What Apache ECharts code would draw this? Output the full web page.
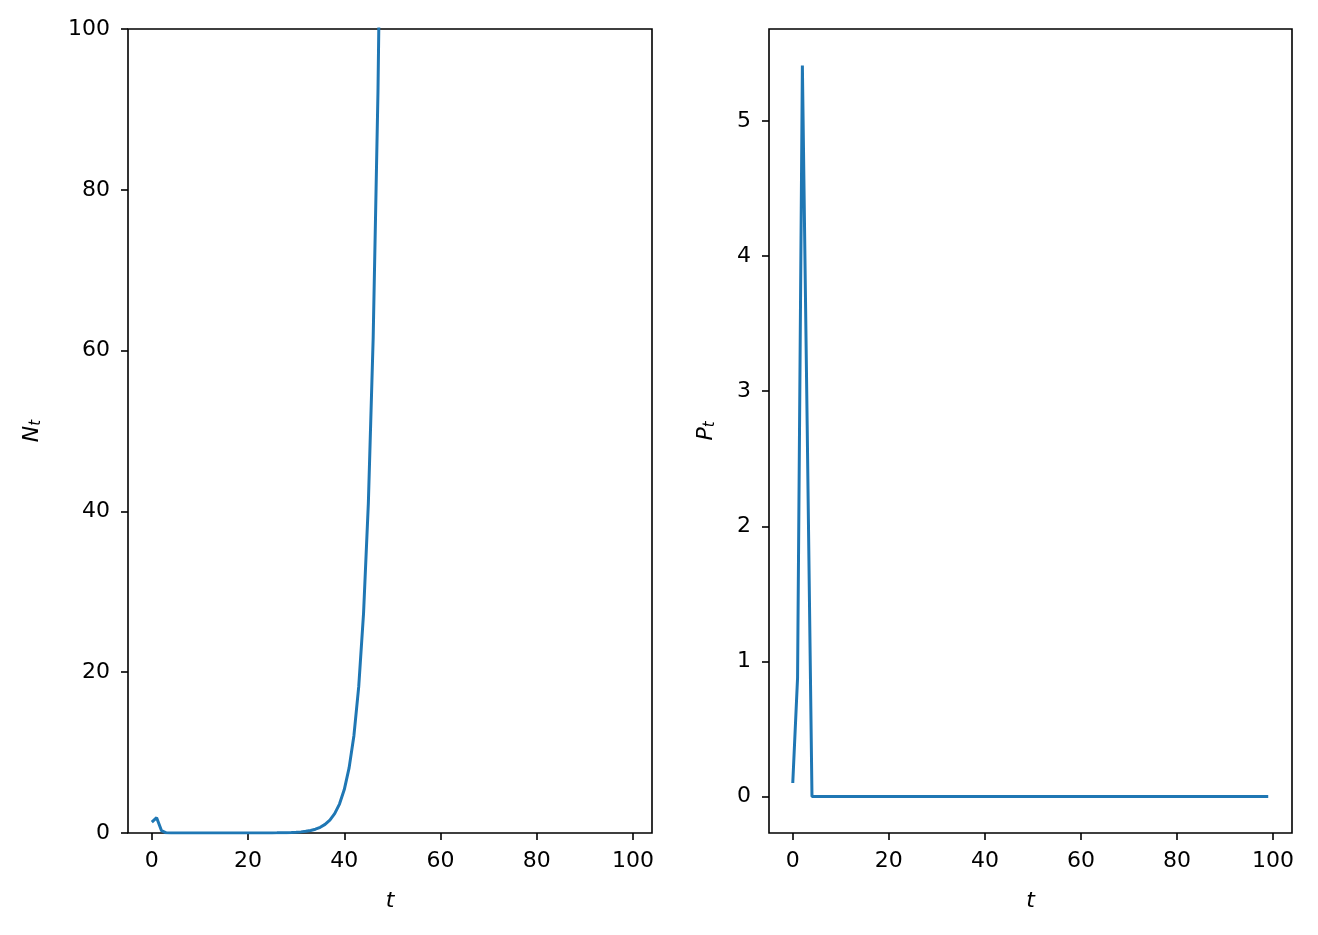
<!DOCTYPE html>
<html>
<head>
<meta charset="utf-8">
<script src="https://cdn.jsdelivr.net/npm/echarts@6/dist/echarts.min.js"></script>
<style>
  html, body { margin: 0; padding: 0; background: #fff; }
  #chart { width: 1318px; height: 935px; }
</style>
</head>
<body>
<div id="chart"></div>
<script>
// population N_t, t = 0..48 (line leaves the top of the plot after t = 47)
const nValues = [
  1.35, 1.9, 0.3, 0.02, 0.01, 0.001, 0.001, 0.001, 0.001, 0.001,
  0.001, 0.001, 0.001, 0.001, 0.001, 0.001, 0.001, 0.001, 0.001, 0.001,
  0.002, 0.003, 0.004, 0.006, 0.009, 0.013, 0.02, 0.03, 0.04, 0.06,
  0.09, 0.14, 0.21, 0.32, 0.47, 0.71, 1.07, 1.6, 2.4, 3.6,
  5.4, 8.1, 12.1, 18.2, 27.3, 41, 61.5, 92.2, 138
];
// P_t, t = 0..99
const pValues = [
  0.1, 0.88, 5.41, 2.75, 0, 0, 0, 0, 0, 0,
  0, 0, 0, 0, 0, 0, 0, 0, 0, 0,
  0, 0, 0, 0, 0, 0, 0, 0, 0, 0,
  0, 0, 0, 0, 0, 0, 0, 0, 0, 0,
  0, 0, 0, 0, 0, 0, 0, 0, 0, 0,
  0, 0, 0, 0, 0, 0, 0, 0, 0, 0,
  0, 0, 0, 0, 0, 0, 0, 0, 0, 0,
  0, 0, 0, 0, 0, 0, 0, 0, 0, 0,
  0, 0, 0, 0, 0, 0, 0, 0, 0, 0,
  0, 0, 0, 0, 0, 0, 0, 0, 0, 0
];
const xTicks = [0, 20, 40, 60, 80, 100];
const nTicks = [0, 20, 40, 60, 80, 100];
const pTicks = [0, 1, 2, 3, 4, 5];

const toPairs = (arr) => arr.map((v, i) => [i, v]);

const font = "DejaVu Sans";
const labelStyle = { color: "#000", fontSize: 22, fontFamily: font };

function xAxisCfg(idx) {
  return {
    gridIndex: idx,
    type: "value",
    min: -4.95,
    max: 103.95,
    name: "t",
    nameLocation: "middle",
    nameGap: 57,
    nameTextStyle: { color: "#000", fontSize: 22, fontFamily: font, fontStyle: "italic" },
    axisLine: { show: false, onZero: false },
    axisTick: { show: true, length: 7, lineStyle: { color: "#000", width: 1.6 }, customValues: xTicks },
    axisLabel: Object.assign({ margin: 17, customValues: xTicks }, labelStyle),
    splitLine: { show: false },
  };
}

function yAxisCfg(idx, min, max, ticks, letter, gap) {
  return {
    gridIndex: idx,
    type: "value",
    min: min,
    max: max,
    name: "{a|" + letter + "}{b|t}",
    nameLocation: "middle",
    nameGap: gap,
    nameTextStyle: {
      rich: {
        a: { color: "#000", fontSize: 22, fontFamily: font, fontStyle: "italic" },
        b: { color: "#000", fontSize: 15, fontFamily: font, fontStyle: "italic", verticalAlign: "bottom", padding: [9, 0, 0, 0] },
      },
    },
    axisLine: { show: false, onZero: false },
    axisTick: { show: true, length: 7, lineStyle: { color: "#000", width: 1.6 }, customValues: ticks },
    axisLabel: Object.assign({ margin: 18, customValues: ticks }, labelStyle),
    splitLine: { show: false },
  };
}

const chart = echarts.init(document.getElementById("chart"), null, { renderer: "canvas" });
chart.setOption({
  animation: false,
  backgroundColor: "#fff",
  grid: [
    { left: 128, right: 666, top: 29, bottom: 102, show: true, borderColor: "#000", borderWidth: 1.6, backgroundColor: "transparent" },
    { left: 769, right: 26, top: 29, bottom: 102, show: true, borderColor: "#000", borderWidth: 1.6, backgroundColor: "transparent" },
  ],
  xAxis: [xAxisCfg(0), xAxisCfg(1)],
  yAxis: [
    yAxisCfg(0, 0, 100, nTicks, "N", 84),
    yAxisCfg(1, -0.27, 5.68, pTicks, "P", 51),
  ],
  series: [
    {
      type: "line",
      xAxisIndex: 0,
      yAxisIndex: 0,
      data: toPairs(nValues),
      showSymbol: false,
      clip: true,
      lineStyle: { color: "#1f77b4", width: 3 },
    },
    {
      type: "line",
      xAxisIndex: 1,
      yAxisIndex: 1,
      data: toPairs(pValues),
      showSymbol: false,
      clip: true,
      lineStyle: { color: "#1f77b4", width: 3 },
    },
  ],
});
</script>
</body>
</html>
